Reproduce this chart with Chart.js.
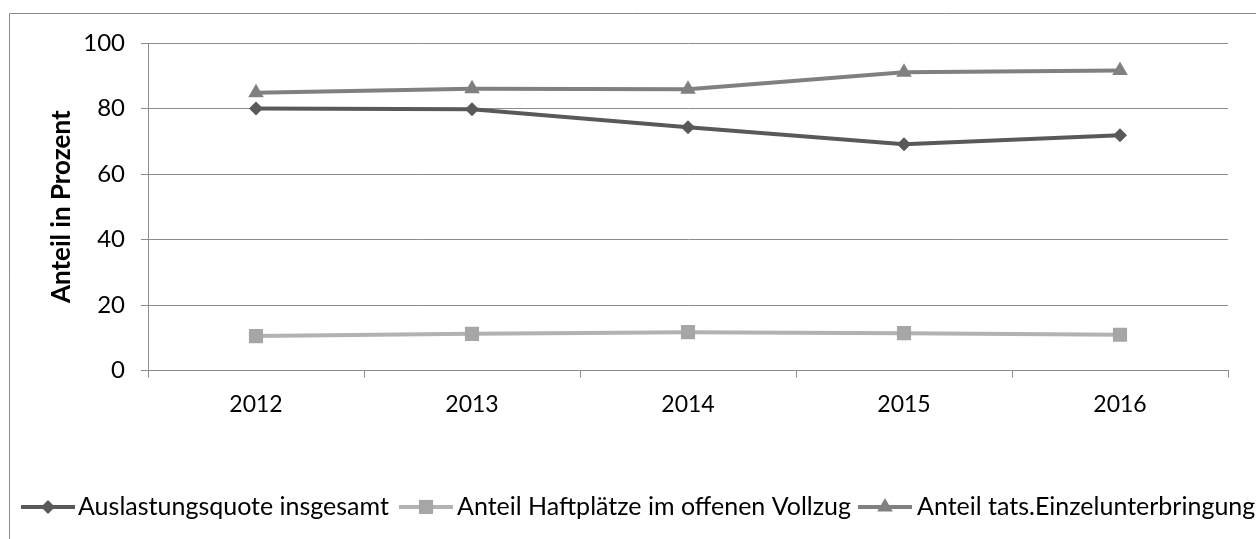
<!DOCTYPE html>
<html>
<head>
<meta charset="utf-8">
<script src="https://cdn.jsdelivr.net/npm/chart.js@4.4.1/dist/chart.umd.min.js"></script>
<style>
  html, body { margin: 0; padding: 0; background: #ffffff; }
  #wrap { position: relative; width: 1256px; height: 539px; }
</style>
</head>
<body>
<div id="wrap"><canvas id="c" width="1256" height="539"></canvas></div>
<script>
const categories = ['2012', '2013', '2014', '2015', '2016'];
const auslastung = [80.0, 79.8, 74.3, 69.1, 71.8];
const haftplaetze = [10.5, 11.2, 11.7, 11.4, 10.9];
const einzel = [84.8, 86.0, 85.9, 91.1, 91.6];
const seriesNames = ['Auslastungsquote insgesamt', 'Anteil Haftplätze im offenen Vollzug', 'Anteil tats.Einzelunterbringung'];
const yTicks = [0, 20, 40, 60, 80, 100];
const yTitle = 'Anteil in Prozent';

const FONT = 'Lato, "Open Sans", sans-serif';
const GRID = '#8c8c8c';
const colors = ['#595959', '#b2b2b2', '#808080'];
const markerColors = ['#595959', '#a6a6a6', '#808080'];
const styles = ['rectRot', 'rect', 'triangle'];
const radii = [7, 10, 9];

const frame = {
  id: 'frame',
  beforeDraw(chart) {
    const ctx = chart.ctx;
    ctx.save();
    ctx.strokeStyle = '#8a8a8a';
    ctx.lineWidth = 1;
    ctx.beginPath();
    ctx.moveTo(9.5, 539);
    ctx.lineTo(9.5, 13.5);
    ctx.lineTo(1256, 13.5);
    ctx.stroke();
    ctx.restore();
  }
};

const legendPlugin = {
  id: 'customLegend',
  afterDraw(chart) {
    const ctx = chart.ctx;
    const y = 507;
    const lineStarts = [21, 399, 858];
    const textStarts = [78, 457, 917];
    ctx.save();
    ctx.font = '25px ' + FONT;
    ctx.textBaseline = 'middle';
    chart.data.datasets.forEach((ds, i) => {
      const x0 = lineStarts[i];
      ctx.strokeStyle = ds.borderColor;
      ctx.lineWidth = 4;
      ctx.beginPath();
      ctx.moveTo(x0, y);
      ctx.lineTo(x0 + 54, y);
      ctx.stroke();
      ctx.fillStyle = ds.pointBackgroundColor;
      ctx.strokeStyle = ds.pointBackgroundColor;
      ctx.lineWidth = 0;
      Chart.helpers.drawPoint(ctx, { pointStyle: ds.pointStyle, radius: ds.pointRadius, borderWidth: 0 }, x0 + 27, y);
      ctx.fillStyle = '#000000';
      ctx.fillText(ds.label, textStarts[i], y);
    });
    ctx.restore();
  }
};

const datasetsRaw = [auslastung, haftplaetze, einzel];
const datasets = datasetsRaw.map((arr, i) => ({
  label: seriesNames[i],
  data: arr,
  borderColor: colors[i],
  backgroundColor: markerColors[i],
  pointBackgroundColor: markerColors[i],
  pointBorderColor: markerColors[i],
  pointBorderWidth: 0,
  pointStyle: styles[i],
  pointRadius: radii[i],
  pointHoverRadius: radii[i],
  borderWidth: 4,
  tension: 0,
  fill: false
}));

new Chart(document.getElementById('c'), {
  type: 'line',
  data: { labels: categories, datasets },
  options: {
    responsive: false,
    animation: false,
    devicePixelRatio: 1,
    layout: { padding: { top: 43, right: 28, left: 0, bottom: 0 } },
    plugins: {
      legend: { display: false },
      tooltip: { enabled: false }
    },
    scales: {
      x: {
        type: 'category',
        offset: true,
        grid: {
          offset: true,
          drawOnChartArea: false,
          drawTicks: true,
          tickLength: 7,
          color: GRID,
          lineWidth: 1
        },
        border: { display: true, color: GRID, width: 1 },
        ticks: {
          color: '#000000',
          font: { family: FONT, size: 23 },
          padding: 13,
          maxRotation: 0
        },
        afterFit(s) { s.height = 168.5; }
      },
      y: {
        min: 0,
        max: 100,
        afterBuildTicks(s) { s.ticks = yTicks.map(v => ({ value: v })); },
        grid: {
          color: GRID,
          lineWidth: 1,
          drawTicks: true,
          tickLength: 7
        },
        border: { display: true, color: GRID, width: 1 },
        ticks: {
          color: '#000000',
          font: { family: FONT, size: 24 },
          padding: 16
        },
        title: {
          display: true,
          text: yTitle,
          color: '#000000',
          font: { family: FONT, size: 26, weight: 'bold' },
          padding: { top: 46, bottom: 0 }
        },
        afterFit(s) { s.width = 148; }
      }
    }
  },
  plugins: [frame, legendPlugin]
});
</script>
</body>
</html>
